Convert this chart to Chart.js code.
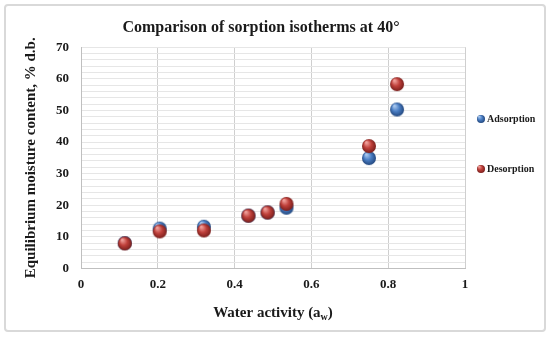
<!DOCTYPE html>
<html lang="en">
<head>
    <meta charset="UTF-8">
    <title>Sorption isotherms</title>
    <script src="https://cdn.jsdelivr.net/npm/chart.js"></script>
    <style>
        body { margin: 0; background: #fff; }
        .frame {
            position: absolute; left: 4px; top: 4px;
            width: 538px; height: 324px;
            border: 2px solid #d9d9d9; border-radius: 4px;
        }
        canvas { display: block; }
    </style>
</head>
<body>
    <div class="frame">
        <canvas id="sorption-chart" width="538" height="324"></canvas>
    </div>

    <script>
        // water activity / moisture content
        const awAdsorption = [0.114, 0.205, 0.32, 0.436, 0.486, 0.535, 0.75, 0.823];
        const emcAdsorption = [8.0, 12.6, 13.2, 16.7, 17.7, 19.2, 34.9, 50.3];
        const awDesorption = [0.114, 0.205, 0.32, 0.436, 0.486, 0.535, 0.75, 0.823];
        const emcDesorption = [7.9, 11.7, 12.0, 16.7, 17.7, 20.4, 38.7, 58.3];
        const seriesNames = ['Adsorption', 'Desorption'];

        // little shaded balls for the markers
        function makeBall(r, light, mid, dark) {
            const c = document.createElement('canvas');
            c.width = r * 2 + 2;
            c.height = r * 2 + 2;
            const g = c.getContext('2d');
            const grad = g.createRadialGradient(r * 0.75, r * 0.6, r * 0.1, r + 1, r + 1, r);
            grad.addColorStop(0, light);
            grad.addColorStop(0.5, mid);
            grad.addColorStop(1, dark);
            g.fillStyle = grad;
            g.beginPath();
            g.arc(r + 1, r + 1, r, 0, Math.PI * 2);
            g.fill();
            return c;
        }

        const blueBall = makeBall(7, '#a9c8ee', '#4a7ec4', '#23487f');
        const redBall = makeBall(7, '#f0a19c', '#c0403b', '#7a1f1c');
        const blueSmall = makeBall(4, '#a9c8ee', '#4a7ec4', '#23487f');
        const redSmall = makeBall(4, '#f0a19c', '#c0403b', '#7a1f1c');

        const toPoints = (xs, ys) => xs.map((x, i) => ({ x: x, y: ys[i] }));

        const serif = "'Liberation Serif', 'DejaVu Serif', serif";

        // legend on the right with wide spacing, and the a_w subscript
        const extras = {
            id: 'extras',
            afterDraw(chart) {
                const ctx = chart.ctx;
                const area = chart.chartArea;
                ctx.save();
                ctx.fillStyle = '#1a1a1a';
                ctx.textBaseline = 'middle';
                ctx.textAlign = 'left';
                ctx.font = "bold 10px " + serif;
                const marks = [blueSmall, redSmall];
                const ys = [113, 163];
                seriesNames.forEach((name, i) => {
                    ctx.drawImage(marks[i], 470, ys[i] - 5);
                    ctx.fillText(name, 481, ys[i]);
                });

                // x axis title with subscript w
                const xs = chart.scales.x;
                const big = "bold 15px " + serif;
                const small = "bold 10px " + serif;
                const part1 = 'Water activity (a';
                const part2 = 'w';
                const part3 = ')';
                ctx.font = big;
                const w1 = ctx.measureText(part1).width;
                const w3 = ctx.measureText(part3).width;
                ctx.font = small;
                const w2 = ctx.measureText(part2).width;
                let x = (area.left + area.right) / 2 - (w1 + w2 + w3) / 2;
                const y = xs.bottom - 13;
                ctx.font = big;
                ctx.fillText(part1, x, y);
                x += w1;
                ctx.font = small;
                ctx.fillText(part2, x, y + 4);
                x += w2;
                ctx.font = big;
                ctx.fillText(part3, x, y);
                ctx.restore();
            }
        };

        new Chart(document.getElementById('sorption-chart'), {
            type: 'scatter',
            data: {
                datasets: [{
                    label: seriesNames[0],
                    data: toPoints(awAdsorption, emcAdsorption),
                    pointStyle: blueBall,
                    order: 1
                }, {
                    label: seriesNames[1],
                    data: toPoints(awDesorption, emcDesorption),
                    pointStyle: redBall,
                    order: 0
                }]
            },
            plugins: [extras],
            options: {
                responsive: false,
                animation: false,
                layout: { padding: { top: 6, right: 40, left: 12, bottom: 4 } },
                plugins: {
                    title: {
                        display: true,
                        text: 'Comparison of sorption isotherms at 40°',
                        color: '#1a1a1a',
                        font: { family: serif, size: 16, weight: 'bold' },
                        padding: { top: 6, bottom: 10 }
                    },
                    legend: { display: false },
                    tooltip: { enabled: false }
                },
                scales: {
                    x: {
                        type: 'linear',
                        min: 0,
                        max: 1,
                        ticks: {
                            stepSize: 0.2,
                            padding: 8,
                            color: '#1a1a1a',
                            font: { family: serif, size: 13, weight: 'bold' },
                            callback: v => Math.round(v * 10) / 10
                        },
                        grid: { color: '#cfcfcf', drawTicks: false },
                        border: { color: '#bfbfbf' },
                        title: {
                            display: true,
                            text: 'Water activity (aw)',
                            color: 'rgba(0,0,0,0)',
                            font: { family: serif, size: 15, weight: 'bold' },
                            padding: { top: 6, bottom: 2 }
                        }
                    },
                    y: {
                        min: 0,
                        max: 70,
                        ticks: {
                            stepSize: 2,
                            autoSkip: false,
                            padding: 12,
                            color: '#1a1a1a',
                            font: { family: serif, size: 13, weight: 'bold' },
                            callback: v => (v % 10 === 0 ? v : '')
                        },
                        grid: { color: '#e6e6e6', drawTicks: false },
                        border: { color: '#bfbfbf' },
                        title: {
                            display: true,
                            text: 'Equilibrium moisture content, % d.b.',
                            color: '#1a1a1a',
                            font: { family: serif, size: 15, weight: 'bold' },
                            padding: { bottom: 4 }
                        }
                    },
                    // empty strip on the right that leaves room for the legend
                    legendSpace: {
                        position: 'right',
                        display: true,
                        grid: { display: false },
                        border: { display: false },
                        ticks: { display: false },
                        afterFit: s => { s.width = 39; }
                    }
                }
            }
        });
    </script>
</body>
</html>
